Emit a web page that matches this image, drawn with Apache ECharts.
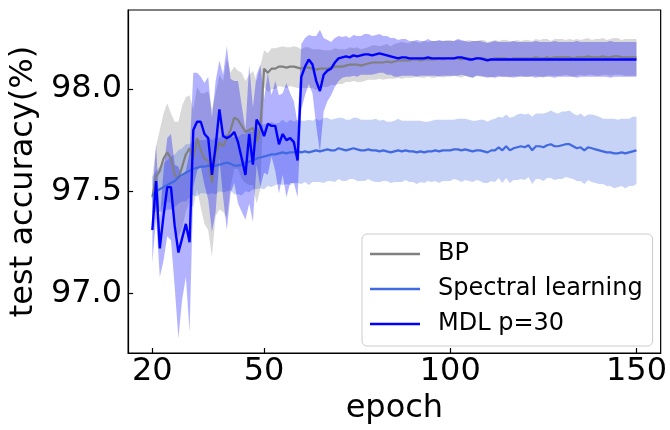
<!DOCTYPE html>
<html><head><meta charset="utf-8">
<script src="https://cdn.jsdelivr.net/npm/echarts@6/dist/echarts.min.js"></script>
<style>html,body{margin:0;padding:0;background:#fff}#c{width:670px;height:430px}</style>
</head><body><div id="c"></div>
<script>
const epochStart = 20, epochEnd = 150;
const xTicks = [20, 50, 100, 150];
const yTicks = [97.0, 97.5, 98.0];
const seriesNames = ['BP', 'Spectral learning', 'MDL p=30'];

// BP (gray) mean and std, epochs 20..150
const bpMean = [
97.47,97.57,97.60,97.66,97.69,97.66,97.58,97.56,97.62,97.68,
97.71,97.66,97.76,97.70,97.66,97.65,97.54,97.68,97.74,97.72,
97.76,97.80,97.86,97.85,97.82,97.79,97.80,97.81,97.74,97.81,
98.10,98.08,98.10,98.10,98.11,98.11,98.105,98.11,98.11,98.105,
98.10,98.105,98.105,98.10,98.095,98.10,98.10,98.10,98.105,98.11,
98.11,98.11,98.115,98.12,98.12,98.12,98.115,98.12,98.125,98.13,
98.13,98.13,98.13,98.135,98.13,98.135,98.14,98.14,98.14,98.14,
98.145,98.145,98.14,98.145,98.145,98.145,98.145,98.15,98.145,98.15,
98.15,98.15,98.15,98.145,98.15,98.15,98.145,98.15,98.15,98.15,
98.145,98.145,98.15,98.15,98.15,98.15,98.145,98.15,98.15,98.15,
98.15,98.15,98.15,98.155,98.15,98.15,98.155,98.15,98.155,98.155,
98.155,98.155,98.155,98.15,98.155,98.155,98.155,98.16,98.155,98.155,
98.155,98.16,98.155,98.155,98.16,98.16,98.155,98.155,98.155,98.155,98.155];
const bpStd = [
0.10,0.15,0.20,0.22,0.24,0.22,0.26,0.28,0.30,0.28,
0.26,0.24,0.25,0.28,0.32,0.34,0.36,0.30,0.33,0.32,
0.39,0.28,0.25,0.24,0.26,0.25,0.27,0.28,0.30,0.30,
0.09,0.095,0.10,0.10,0.095,0.10,0.10,0.095,0.10,0.10,
0.095,0.10,0.10,0.095,0.10,0.095,0.09,0.09,0.085,0.09,
0.085,0.085,0.08,0.085,0.08,0.085,0.08,0.08,0.08,0.085,
0.085,0.08,0.085,0.085,0.08,0.085,0.085,0.09,0.085,0.085,
0.09,0.085,0.085,0.09,0.085,0.09,0.09,0.085,0.09,0.09,
0.09,0.085,0.09,0.09,0.085,0.09,0.09,0.085,0.09,0.09,
0.085,0.09,0.09,0.085,0.09,0.09,0.09,0.085,0.09,0.085,
0.09,0.09,0.085,0.09,0.09,0.095,0.09,0.085,0.09,0.09,
0.09,0.085,0.09,0.09,0.09,0.085,0.09,0.09,0.085,0.09,
0.09,0.09,0.085,0.09,0.09,0.09,0.085,0.09,0.09,0.09,0.09];

// Spectral learning (royal blue)
const spMean = [
97.48,97.50,97.51,97.52,97.53,97.54,97.55,97.57,97.58,97.59,
97.60,97.61,97.615,97.62,97.62,97.625,97.62,97.625,97.63,97.635,
97.64,97.635,97.625,97.625,97.63,97.64,97.645,97.65,97.66,97.665,
97.67,97.675,97.68,97.68,97.685,97.69,97.685,97.69,97.69,97.695,
97.69,97.695,97.69,97.695,97.70,97.695,97.70,97.705,97.70,97.70,
97.71,97.705,97.70,97.705,97.71,97.705,97.70,97.70,97.705,97.70,
97.70,97.695,97.70,97.695,97.69,97.695,97.70,97.695,97.70,97.695,
97.695,97.69,97.695,97.69,97.695,97.695,97.70,97.695,97.70,97.70,
97.70,97.705,97.705,97.70,97.705,97.70,97.695,97.70,97.70,97.695,
97.69,97.70,97.70,97.715,97.70,97.72,97.70,97.71,97.715,97.72,
97.715,97.725,97.70,97.72,97.72,97.715,97.725,97.73,97.72,97.72,
97.725,97.73,97.73,97.72,97.71,97.715,97.70,97.715,97.71,97.705,
97.70,97.695,97.69,97.69,97.685,97.685,97.69,97.685,97.69,97.695,97.70];
const spStd = [
0.09,0.10,0.11,0.12,0.12,0.13,0.13,0.13,0.13,0.14,
0.13,0.13,0.14,0.13,0.13,0.14,0.13,0.14,0.13,0.14,
0.14,0.13,0.14,0.14,0.15,0.14,0.15,0.14,0.15,0.15,
0.16,0.15,0.16,0.15,0.15,0.16,0.15,0.16,0.15,0.155,
0.155,0.15,0.16,0.15,0.155,0.15,0.16,0.155,0.15,0.155,
0.15,0.155,0.15,0.145,0.15,0.155,0.15,0.15,0.145,0.15,
0.155,0.15,0.15,0.145,0.15,0.15,0.155,0.15,0.145,0.15,
0.15,0.155,0.15,0.15,0.145,0.15,0.15,0.155,0.15,0.15,
0.15,0.145,0.15,0.155,0.15,0.15,0.15,0.145,0.15,0.155,
0.15,0.15,0.155,0.15,0.16,0.155,0.16,0.155,0.16,0.16,
0.16,0.155,0.165,0.16,0.16,0.165,0.16,0.165,0.165,0.16,
0.165,0.16,0.165,0.16,0.16,0.165,0.165,0.16,0.165,0.165,
0.165,0.16,0.165,0.165,0.17,0.165,0.165,0.17,0.165,0.17,0.165];

// MDL p=30 (blue)
const mdlMean = [
97.31,97.55,97.22,97.38,97.52,97.52,97.33,97.20,97.27,97.34,
97.25,97.80,97.84,97.84,97.78,97.76,97.58,97.72,97.90,97.77,
97.76,97.77,97.79,97.74,97.66,97.58,97.78,97.63,97.85,97.82,
97.77,97.83,97.82,97.82,97.73,97.78,97.75,97.76,97.74,97.65,
98.06,98.11,98.145,98.12,98.04,97.99,98.07,98.09,98.10,98.13,
98.15,98.155,98.16,98.155,98.165,98.16,98.165,98.17,98.17,98.165,
98.17,98.175,98.17,98.165,98.16,98.155,98.15,98.155,98.155,98.15,
98.15,98.15,98.15,98.15,98.155,98.15,98.15,98.15,98.15,98.15,
98.15,98.15,98.155,98.155,98.15,98.145,98.145,98.15,98.15,98.145,
98.14,98.145,98.145,98.145,98.145,98.145,98.145,98.145,98.145,98.145,
98.145,98.145,98.145,98.145,98.145,98.145,98.145,98.145,98.145,98.145,
98.145,98.145,98.145,98.145,98.145,98.145,98.145,98.145,98.145,98.145,
98.145,98.145,98.145,98.145,98.145,98.145,98.145,98.145,98.145,98.145,98.145];
const mdlStd = [
0.16,0.18,0.14,0.22,0.24,0.26,0.30,0.42,0.30,0.26,
0.44,0.28,0.24,0.22,0.25,0.30,0.28,0.32,0.24,0.30,
0.45,0.28,0.25,0.30,0.26,0.22,0.34,0.28,0.22,0.30,
0.18,0.25,0.15,0.22,0.24,0.20,0.28,0.22,0.20,0.18,
0.16,0.14,0.12,0.14,0.22,0.30,0.18,0.15,0.13,0.12,
0.11,0.10,0.10,0.095,0.10,0.10,0.095,0.10,0.10,0.095,
0.095,0.095,0.09,0.095,0.09,0.095,0.09,0.09,0.09,0.085,
0.085,0.09,0.085,0.085,0.09,0.085,0.085,0.09,0.085,0.085,
0.085,0.085,0.09,0.085,0.085,0.085,0.09,0.085,0.085,0.085,
0.085,0.085,0.09,0.085,0.085,0.085,0.085,0.09,0.085,0.085,
0.085,0.085,0.085,0.09,0.085,0.085,0.085,0.085,0.09,0.085,
0.085,0.085,0.085,0.085,0.09,0.085,0.085,0.085,0.085,0.085,
0.085,0.085,0.085,0.09,0.085,0.085,0.085,0.085,0.085,0.085,0.085];

const colors = {bp: '#808080', sp: '#4169e1', mdl: '#0000ff'};
const FONT = 'DejaVu Sans';

const epochs = [];
for (let e = epochStart; e <= epochEnd; e++) epochs.push(e);
const pairs = vals => epochs.map((e, i) => [e, vals[i]]);

// band drawn as one polygon (mean - std .. mean + std) through the axis scales
function band(key, m, s, color) {
  const lo = m.map((v, i) => v - s[i]);
  const hi = m.map((v, i) => v + s[i]);
  return {
    name: key + '_band', type: 'custom', silent: true, z: 1,
    data: epochs.map((e, i) => [e, lo[i], hi[i]]),
    encode: {x: 0, y: [1, 2]},
    clip: true,
    renderItem: function (params, api) {
      if (params.dataIndex !== 0) return null;
      const pts = [];
      for (let i = 0; i < epochs.length; i++) pts.push(api.coord([epochs[i], hi[i]]));
      for (let i = epochs.length - 1; i >= 0; i--) pts.push(api.coord([epochs[i], lo[i]]));
      return {type: 'polygon', shape: {points: pts}, style: {fill: color, opacity: 0.3}};
    }
  };
}
function line(name, m, color, w) {
  return {name: name, type: 'line', data: pairs(m), symbol: 'none', showSymbol: false,
    lineStyle: {color: color, width: w}, itemStyle: {color: color}, emphasis: {disabled: true}, z: 3};
}

const chart = echarts.init(document.getElementById('c'), null, {renderer: 'canvas'});
chart.setOption({
  animation: false,
  backgroundColor: '#ffffff',
  grid: {left: 128, top: 10, width: 537, height: 347, show: true, borderColor: '#000', borderWidth: 1.2, backgroundColor: 'transparent'},
  xAxis: {
    type: 'value', min: 13.5, max: 156.5,
    name: 'epoch', nameLocation: 'middle', nameGap: 40,
    nameTextStyle: {fontFamily: FONT, fontSize: 32, color: '#000'},
    axisLine: {show: true, lineStyle: {color: '#000', width: 1.2}},
    axisTick: {show: true, inside: true, length: 5, customValues: xTicks, lineStyle: {color: '#000', width: 1.2}},
    axisLabel: {customValues: xTicks, fontFamily: FONT, fontSize: 32, color: '#000', margin: 3},
    splitLine: {show: false}
  },
  yAxis: {
    type: 'value', min: 96.708, max: 98.387,
    name: 'test accuracy(%)', nameLocation: 'middle', nameGap: 75,
    nameTextStyle: {fontFamily: FONT, fontSize: 32, color: '#000'},
    axisLine: {show: true, lineStyle: {color: '#000', width: 1.2}},
    axisTick: {show: true, inside: true, length: 5, customValues: yTicks, lineStyle: {color: '#000', width: 1.2}},
    axisLabel: {customValues: yTicks, fontFamily: FONT, fontSize: 32, color: '#000', margin: 6,
      formatter: v => v.toFixed(1)},
    splitLine: {show: false}
  },
  legend: {
    data: seriesNames, orient: 'vertical', left: 362, top: 234,
    icon: 'rect', itemWidth: 50, itemHeight: 2.5, itemGap: 11,
    padding: [8, 10, 10, 8],
    backgroundColor: 'rgba(255,255,255,0.8)', borderColor: '#cccccc', borderWidth: 1, borderRadius: 5,
    textStyle: {fontFamily: FONT, fontSize: 24, color: '#000', padding: [0, 0, 0, 13]},
    selectedMode: false
  },
  series: [
    band('bp', bpMean, bpStd, colors.bp),
    band('sp', spMean, spStd, colors.sp),
    band('mdl', mdlMean, mdlStd, colors.mdl),
    line(seriesNames[0], bpMean, colors.bp, 2.2),
    line(seriesNames[1], spMean, colors.sp, 2.2),
    line(seriesNames[2], mdlMean, colors.mdl, 2.4)
  ]
});
</script>
</body></html>
